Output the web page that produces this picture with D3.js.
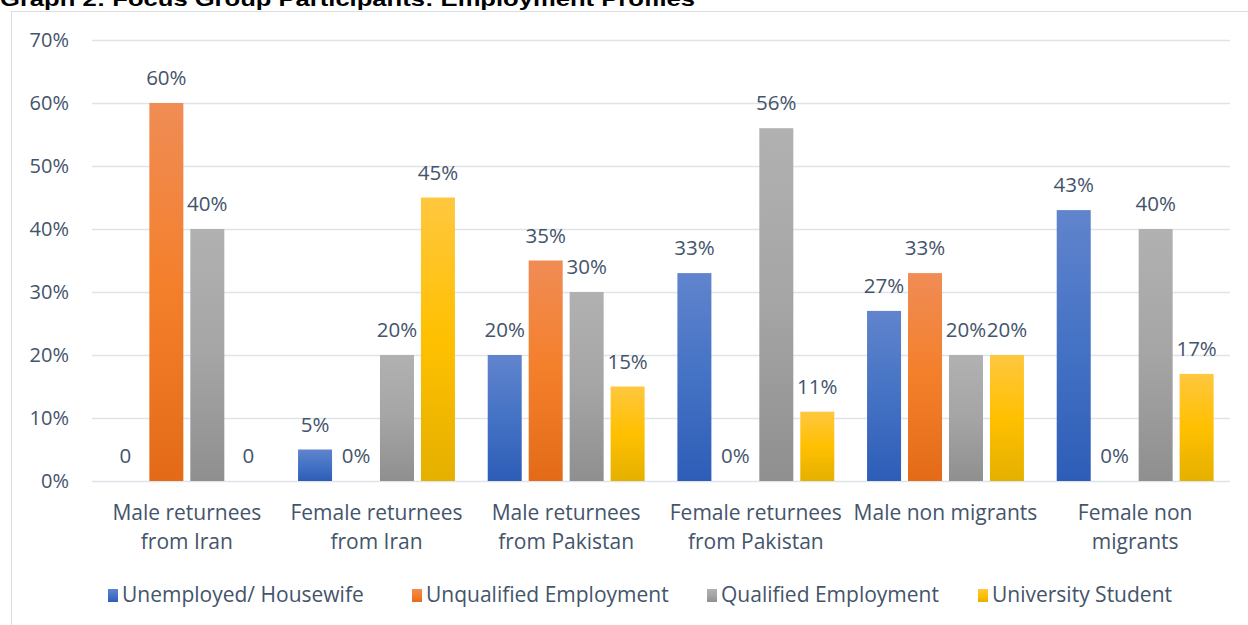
<!DOCTYPE html>
<html>
<head>
<meta charset="utf-8">
<script src="https://cdn.jsdelivr.net/npm/d3@7"></script>
<style>
  body { margin: 0; background: #fff; }
  svg { display: block; font-family: "Open Sans", "Noto Sans", sans-serif; }
</style>
</head>
<body>
<svg id="myGraph" width="1248" height="625"></svg>
<script>
// データ
var categories = [
  ["Male returnees", "from Iran"],
  ["Female returnees", "from Iran"],
  ["Male returnees", "from Pakistan"],
  ["Female returnees", "from Pakistan"],
  ["Male non migrants"],
  ["Female non", "migrants"]
];
var seriesNames = ["Unemployed/ Housewife", "Unqualified Employment", "Qualified Employment", "University Student"];
var unemployed  = [0, 5, 20, 33, 27, 43];
var unqualified = [60, 0, 35, 0, 33, 0];
var qualified   = [40, 20, 30, 56, 20, 40];
var student     = [0, 45, 15, 11, 20, 17];
// ラベル（男性イラン帰還者の0だけ「0」表記）
var unemployedLabels  = ["0", "5%", "20%", "33%", "27%", "43%"];
var unqualifiedLabels = ["60%", "0%", "35%", "0%", "33%", "0%"];
var qualifiedLabels   = ["40%", "20%", "30%", "56%", "20%", "40%"];
var studentLabels     = ["0", "45%", "15%", "11%", "20%", "17%"];
var yTicks = [0, 10, 20, 30, 40, 50, 60, 70];

var seriesValues = [unemployed, unqualified, qualified, student];
var seriesLabels = [unemployedLabels, unqualifiedLabels, qualifiedLabels, studentLabels];

// グラデーション色 (上, 中, 下)
var gradColors = [
  ["#6184cd", "#4472c4", "#2e5db8"],
  ["#f08c55", "#f47f2a", "#e36b17"],
  ["#b1b1b1", "#a5a5a5", "#8f8f8f"],
  ["#ffc73f", "#ffc000", "#e5b000"]
];
var textColor = "#44546a";

var svg = d3.select("#myGraph");

var defs = svg.append("defs");
gradColors.forEach(function(c, i){
  var g = defs.append("linearGradient")
    .attr("id", "grad" + i)
    .attr("x1", 0).attr("y1", 0).attr("x2", 0).attr("y2", 1);
  g.append("stop").attr("offset", "0%").attr("stop-color", c[0]);
  g.append("stop").attr("offset", "50%").attr("stop-color", c[1]);
  g.append("stop").attr("offset", "100%").attr("stop-color", c[2]);
});

// 枠
svg.append("rect")
  .attr("x", 11.5).attr("y", 11.5)
  .attr("width", 1260).attr("height", 640)
  .attr("fill", "none")
  .attr("stroke", "#d9dee6");

// タイトル（上部が切れている）
svg.append("text")
  .attr("x", 0).attr("y", 6)
  .attr("font-family", "'Liberation Sans', Arial, sans-serif")
  .attr("font-weight", "bold")
  .attr("font-size", 20)
  .attr("textLength", 695)
  .attr("lengthAdjust", "spacingAndGlyphs")
  .attr("fill", "#000")
  .text("Graph 2: Focus Group Participants: Employment Profiles");

var x0 = d3.scaleBand()
  .domain(d3.range(categories.length))
  .range([92, 1230]);

var x1 = d3.scaleBand()
  .domain(d3.range(seriesNames.length))
  .range([0, x0.bandwidth()])
  .paddingInner(0.17)
  .paddingOuter(0.4);

var y = d3.scaleLinear()
  .domain([0, 70])
  .range([481, 40]);

// グリッド線
svg.append("g")
  .selectAll("line")
  .data(yTicks)
  .enter()
  .append("line")
  .attr("x1", 92).attr("x2", 1230)
  .attr("y1", function(d){ return y(d) + 0.5; })
  .attr("y2", function(d){ return y(d) + 0.5; })
  .attr("stroke", "#dfe3ea")
  .attr("stroke-width", 1.5);

// Y軸ラベル
svg.append("g")
  .selectAll("text")
  .data(yTicks)
  .enter()
  .append("text")
  .attr("x", 69)
  .attr("y", function(d){ return y(d); })
  .attr("dy", "0.35em")
  .attr("text-anchor", "end")
  .attr("font-size", 20)
  .attr("fill", textColor)
  .text(function(d){ return d + "%"; });

// 棒
var groups = svg.append("g")
  .selectAll("g")
  .data(categories)
  .enter()
  .append("g")
  .attr("transform", function(d, i){ return "translate(" + x0(i) + ",0)"; });

function rows(d, i){
  return seriesValues.map(function(s, j){ return {s: j, v: s[i], label: seriesLabels[j][i]}; });
}

groups.selectAll("rect")
  .data(rows)
  .enter()
  .append("rect")
  .attr("x", function(d){ return x1(d.s); })
  .attr("y", function(d){ return y(d.v); })
  .attr("width", x1.bandwidth())
  .attr("height", function(d){ return y(0) - y(d.v); })
  .attr("fill", function(d){ return "url(#grad" + d.s + ")"; });

groups.selectAll("text.val")
  .data(rows)
  .enter()
  .append("text")
  .attr("class", "val")
  .attr("x", function(d){ return x1(d.s) + x1.bandwidth() / 2; })
  .attr("y", function(d){ return y(d.v) - 25; })
  .attr("dy", "0.35em")
  .attr("text-anchor", "middle")
  .attr("font-size", 20.5)
  .attr("fill", textColor)
  .text(function(d){ return d.label; });

// X軸ラベル
groups.append("text")
  .attr("text-anchor", "middle")
  .attr("font-size", 21)
  .attr("fill", textColor)
  .selectAll("tspan")
  .data(function(d){ return d; })
  .enter()
  .append("tspan")
  .attr("x", x0.bandwidth() / 2)
  .attr("y", function(d, i){ return 513 + i * 29; })
  .attr("dy", "0.35em")
  .text(function(d){ return d; });

// 凡例
var legendX = [108, 412, 707, 978];
var legend = svg.append("g")
  .selectAll("g")
  .data(seriesNames)
  .enter()
  .append("g")
  .attr("transform", function(d, i){ return "translate(" + legendX[i] + ",595)"; });

legend.append("rect")
  .attr("x", 0).attr("y", -6)
  .attr("width", 10).attr("height", 13)
  .attr("fill", function(d, i){ return "url(#grad" + i + ")"; });

legend.append("text")
  .attr("x", 14)
  .attr("y", 0)
  .attr("dy", "0.35em")
  .attr("font-size", 21)
  .attr("fill", textColor)
  .text(function(d){ return d; });
</script>
</body>
</html>
